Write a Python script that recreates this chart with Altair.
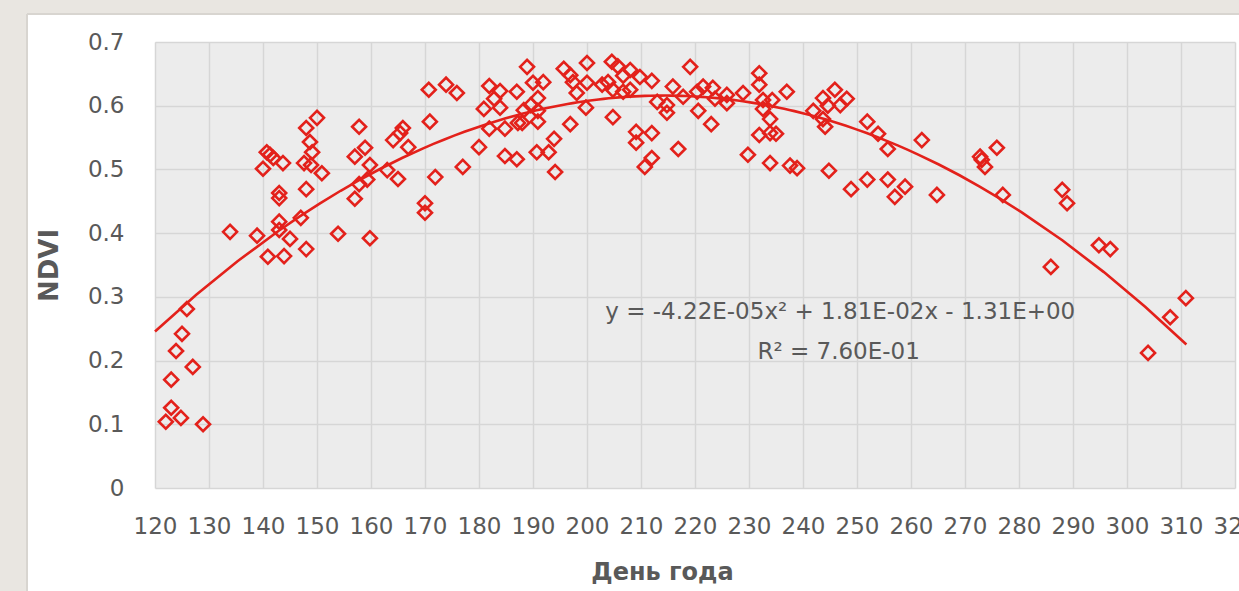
import altair as alt
import pandas as pd

# Day of year and NDVI values
days = [122.0, 123.0, 124.8, 128.9, 123.0, 123.9, 125.0, 127.0, 125.9,
        133.9, 138.9, 140.9, 143.9, 143.0, 143.0, 145.0, 147.0, 148.0,
        140.0, 140.7, 141.3, 141.9, 143.7, 143.0, 143.0, 148.0, 148.0, 150.0, 148.7, 149.1, 147.6, 148.9, 150.9,
        153.9, 159.8, 157.8, 158.9, 157.0, 159.8, 159.3, 157.8, 157.0, 163.0, 165.0, 164.1, 165.9, 165.4, 166.9,
        170.7, 173.9, 175.9, 170.9, 171.9, 170.0, 170.0, 180.0, 177.0, 181.9, 183.9, 182.8, 180.9, 183.9, 181.9,
        184.8, 184.8, 187.0, 187.0, 187.2,
        188.9, 190.0, 191.9, 190.9, 189.6, 188.3, 190.9, 188.0, 190.9, 193.9, 190.7, 192.9, 194.1,
        196.9, 195.7, 196.9, 197.4, 200.0, 198.1, 200.0, 199.8, 202.8, 203.9, 204.6, 205.7, 208.0, 206.7, 209.8,
        212.0, 204.8, 206.7, 208.0, 204.8, 209.1, 212.0, 209.1, 212.0, 210.7,
        213.0, 214.8, 214.8, 215.9, 217.8, 219.1, 216.9, 220.6,
        221.5, 223.3, 220.4, 223.7, 225.9, 225.9, 228.9, 223.0, 231.9, 231.9, 237.0, 232.6, 234.3, 232.6, 233.9,
        231.9, 233.9, 235.0, 229.8, 233.9, 237.6, 238.9,
        241.9, 243.7, 245.9, 248.1, 244.6, 246.9, 243.7, 244.1, 244.8, 248.9, 251.9, 251.9, 253.9, 255.7, 262.0,
        255.7, 258.9, 257.0, 264.8,
        272.8, 273.1, 273.7, 275.9, 277.0, 288.0, 288.9, 285.9, 294.8, 296.9, 308.0, 310.9, 303.9]
ndvi = [0.104, 0.126, 0.110, 0.100, 0.170, 0.215, 0.242, 0.190, 0.281,
        0.402, 0.396, 0.363, 0.364, 0.418, 0.405, 0.391, 0.424, 0.375,
        0.501, 0.527, 0.523, 0.518, 0.510, 0.463, 0.455, 0.469, 0.565, 0.581, 0.543, 0.527, 0.510, 0.507, 0.494,
        0.399, 0.392, 0.567, 0.534, 0.520, 0.507, 0.484, 0.477, 0.454, 0.499, 0.485, 0.546, 0.565, 0.557, 0.535,
        0.625, 0.633, 0.620, 0.575, 0.488, 0.447, 0.432, 0.535, 0.504, 0.631, 0.623, 0.611, 0.595, 0.597, 0.564,
        0.564, 0.521, 0.516, 0.622, 0.573,
        0.661, 0.636, 0.637, 0.612, 0.601, 0.593, 0.592, 0.573, 0.575, 0.548, 0.527, 0.527, 0.496,
        0.571, 0.658, 0.648, 0.637, 0.667, 0.620, 0.636, 0.597, 0.633, 0.637, 0.669, 0.662, 0.656, 0.647, 0.645,
        0.639, 0.625, 0.622, 0.625, 0.582, 0.559, 0.557, 0.542, 0.518, 0.504,
        0.606, 0.601, 0.589, 0.630, 0.614, 0.661, 0.532, 0.592,
        0.630, 0.628, 0.622, 0.611, 0.617, 0.604, 0.620, 0.571, 0.651, 0.633, 0.622, 0.609, 0.609, 0.595, 0.579,
        0.554, 0.557, 0.556, 0.523, 0.510, 0.506, 0.502,
        0.592, 0.612, 0.625, 0.611, 0.600, 0.601, 0.579, 0.567, 0.498, 0.469, 0.484, 0.575, 0.556, 0.532, 0.546,
        0.484, 0.473, 0.457, 0.460,
        0.520, 0.515, 0.504, 0.534, 0.460, 0.468, 0.447, 0.347, 0.381, 0.375, 0.268, 0.298, 0.212]

x_ticks = list(range(120, 321, 10))
y_ticks = [0, 0.1, 0.2, 0.3, 0.4, 0.5, 0.6, 0.7]

eq_lines = ["y = -4.22E-05x² + 1.81E-02x - 1.31E+00", "R² = 7.60E-01"]
eq_day = [246.9, 246.6]
eq_val = [0.276, 0.2135]

RED = "#e3211b"
GRID = "#d6d6d6"
TXT = "#595959"
FONT = "DejaVu Sans"

df = pd.DataFrame({"day": days, "ndvi": ndvi})
ann = pd.DataFrame({"label": eq_lines, "day": eq_day, "ndvi": eq_val})
dummy = pd.DataFrame({"a": [0]})

xs = alt.Scale(domain=[120, 320], nice=False, zero=False)
ys = alt.Scale(domain=[0, 0.7], nice=False)

x_axis = alt.Axis(values=x_ticks, title="День года", grid=True, gridColor=GRID, gridWidth=1.5,
                  domain=False, ticks=False, labelFont=FONT, labelFontSize=23, labelColor=TXT,
                  labelPadding=27, labelFlush=False, labelOverlap=False,
                  titleFont=FONT, titleFontSize=24, titleFontWeight="bold", titleColor=TXT,
                  titleX=507, titleY=84, titleBaseline="middle", titleAnchor="middle")
y_axis = alt.Axis(values=y_ticks, title="NDVI", format=".1~f", grid=True, gridColor=GRID, gridWidth=1.5,
                  domain=False, ticks=False, labelFont=FONT, labelFontSize=23, labelColor=TXT,
                  labelPadding=31, labelFlush=False,
                  titleFont=FONT, titleFontSize=26, titleFontWeight="bold", titleColor=TXT,
                  titleX=-106, titleY=223, titleBaseline="middle", titleAngle=270)

left_strip = alt.Chart(dummy).mark_rect(color="#e9e6e1").encode(
    x=alt.value(-155), x2=alt.value(-128), y=alt.value(-42), y2=alt.value(549))
top_strip = alt.Chart(dummy).mark_rect(color="#e9e6e1").encode(
    x=alt.value(-155), x2=alt.value(1084), y=alt.value(-42), y2=alt.value(-28))
card_edge = alt.Chart(dummy).mark_rule(color="#d8d5d0", strokeWidth=2).encode(
    x=alt.value(-128), y=alt.value(-28), y2=alt.value(549))
card_top = alt.Chart(dummy).mark_rule(color="#d8d5d0", strokeWidth=2).encode(
    x=alt.value(-128), x2=alt.value(1084), y=alt.value(-28))

points = alt.Chart(df).mark_point(shape="diamond", filled=False, color=RED, strokeWidth=2.6,
                                  size=195, opacity=1).encode(
    x=alt.X("day:Q", scale=xs, axis=x_axis),
    y=alt.Y("ndvi:Q", scale=ys, axis=y_axis))

trend = alt.Chart(df).transform_regression(
    "day", "ndvi", method="poly", order=2, extent=[120, 311]
).mark_line(color=RED, strokeWidth=2.6).encode(
    x=alt.X("day:Q", scale=xs), y=alt.Y("ndvi:Q", scale=ys))

text = alt.Chart(ann).mark_text(font=FONT, fontSize=23, color=TXT, align="center",
                                baseline="middle").encode(
    x=alt.X("day:Q", scale=xs), y=alt.Y("ndvi:Q", scale=ys), text="label:N")

chart = alt.layer(left_strip, top_strip, card_edge, card_top, points, trend, text).properties(
    width=1080, height=446,
    padding={"left": 155, "top": 42, "right": 4, "bottom": 103},
    autosize=alt.AutoSizeParams(type="none"),
    background="white",
).configure_view(fill="#ececec", stroke=None)

chart.save("out.html", embed_options={"renderer": "svg", "actions": False})
